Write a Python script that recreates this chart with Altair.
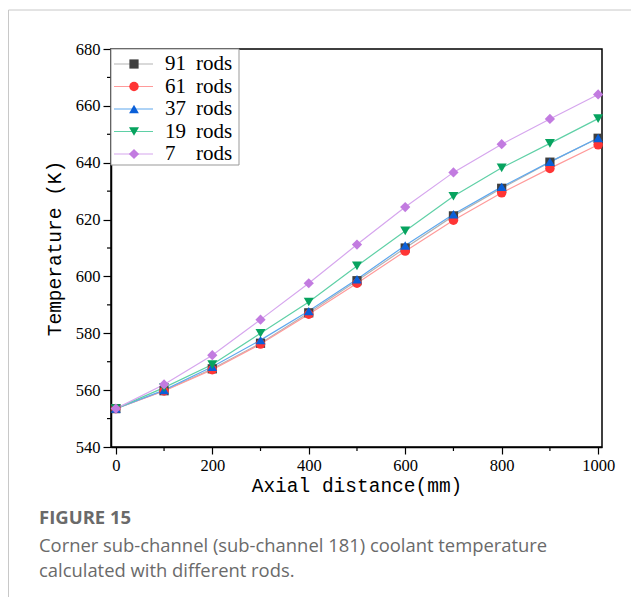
import altair as alt
import pandas as pd

# ---------------- data ----------------
x_mm = [0, 100, 200, 300, 400, 500, 600, 700, 800, 900, 1000]
rod_numbers = ["91", "61", "37", "19", "7"]
t_91 = [553.5, 559.8, 567.5, 576.5, 587.2, 598.5, 610.0, 621.3, 631.0, 640.2, 648.6]
t_61 = [553.5, 559.7, 567.2, 576.2, 586.7, 597.6, 608.9, 619.8, 629.4, 638.0, 646.3]
t_37 = [553.5, 560.0, 568.2, 577.6, 587.8, 599.0, 610.9, 621.9, 631.5, 640.3, 648.7]
t_19 = [553.5, 560.9, 569.0, 580.0, 591.0, 603.7, 616.0, 628.2, 638.2, 646.8, 655.5]
t_7 = [553.5, 562.0, 572.3, 584.8, 597.6, 611.2, 624.4, 636.6, 646.5, 655.4, 664.0]

x_major_ticks = [0, 200, 400, 600, 800, 1000]
x_minor_ticks = [100, 300, 500, 700, 900]
y_major_ticks = [540, 560, 580, 600, 620, 640, 660, 680]
y_minor_ticks = [550, 570, 590, 610, 630, 650, 670]

x_title = "Axial distance(mm)"
y_title = "Temperature (K)"
legend_suffix = "rods"
caption_head = "FIGURE 15"
caption_lines = [
    "Corner sub-channel (sub-channel 181) coolant temperature",
    "calculated with different rods.",
]

# ---------------- styles ----------------
marker_colors = ["#3f3f3f", "#ff3535", "#0a5fd8", "#07a35f", "#c27be0"]
line_colors = ["#b3b3b3", "#ff9a9a", "#5ea8ee", "#5fd0a6", "#d6a6ee"]
shapes = ["square", "circle", "triangle-up", "triangle-down", "diamond"]
sizes = [85, 105, 125, 125, 130]

W, H = 491, 398

all_t = [t_91, t_61, t_37, t_19, t_7]
rows = []
for name, ts in zip(rod_numbers, all_t):
    for xv, tv in zip(x_mm, ts):
        rows.append({"series": name, "x": xv, "t": tv})
df = pd.DataFrame(rows)

xscale = alt.Scale(domain=[-10, 1008], nice=False, zero=False)
yscale = alt.Scale(domain=[540, 680], nice=False, zero=False)
stroke_scale = alt.Scale(domain=rod_numbers, range=line_colors)
fill_scale = alt.Scale(domain=rod_numbers, range=marker_colors)
shape_scale = alt.Scale(domain=rod_numbers, range=shapes)
size_scale = alt.Scale(domain=rod_numbers, range=sizes)

serif = "Liberation Serif"
mono = "Liberation Mono"
sans = "Open Sans"

axis_common = dict(
    grid=False, labelFlush=False, labelOverlap=False, format="d",
    labelFont=serif, labelFontSize=16.5, labelColor="black",
    titleFont=mono, titleFontSize=19.5, titleFontWeight="normal", titleColor="black",
    domainColor="black", domainWidth=1.5, tickColor="black", tickWidth=1.2,
)

lines = alt.Chart(df).mark_line(strokeWidth=1.2).encode(
    x=alt.X("x:Q", scale=xscale, axis=alt.Axis(
        values=x_major_ticks, title=x_title, tickSize=7,
        labelPadding=3, titlePadding=3, **axis_common)),
    y=alt.Y("t:Q", scale=yscale, axis=alt.Axis(
        values=y_major_ticks, title=y_title, tickSize=8,
        labelPadding=3, titlePadding=11, **axis_common)),
    stroke=alt.Stroke("series:N", scale=stroke_scale, legend=None),
    detail="series:N",
)

points = alt.Chart(df).mark_point(filled=True, opacity=1, strokeWidth=0).encode(
    x=alt.X("x:Q", scale=xscale),
    y=alt.Y("t:Q", scale=yscale),
    fill=alt.Fill("series:N", scale=fill_scale, legend=None),
    shape=alt.Shape("series:N", scale=shape_scale, legend=None),
    size=alt.Size("series:N", scale=size_scale, legend=None),
    order=alt.Order("ord:Q"),
).transform_calculate(ord="indexof(" + str(rod_numbers) + ", datum.series)")

xminor = alt.Chart(pd.DataFrame({"v": x_minor_ticks})).mark_rule(
    color="black", strokeWidth=1.2).encode(
    x=alt.X("v:Q", scale=xscale), y=alt.value(H), y2=alt.value(H + 4))
yminor = alt.Chart(pd.DataFrame({"v": y_minor_ticks})).mark_rule(
    color="black", strokeWidth=1.2).encode(
    y=alt.Y("v:Q", scale=yscale), x=alt.value(-4), x2=alt.value(0))

main = alt.layer(lines, points, xminor, yminor)

# ---------------- legend ----------------
leg_df = pd.DataFrame({"series": rod_numbers})
ly = alt.Y("series:N", scale=alt.Scale(type="point", domain=rod_numbers,
                                       range=[15, 105], padding=0), axis=None)
one = pd.DataFrame({"a": [0]})
leg_box = alt.Chart(one).mark_rect(fill="white", stroke="#999999", strokeWidth=1).encode(
    x=alt.value(0), x2=alt.value(128), y=alt.value(0), y2=alt.value(116))
leg_line = alt.Chart(leg_df).mark_rule(strokeWidth=1.2).encode(
    x=alt.value(3), x2=alt.value(42), y=ly,
    stroke=alt.Stroke("series:N", scale=stroke_scale, legend=None))
leg_pt = alt.Chart(leg_df).mark_point(filled=True, opacity=1, strokeWidth=0).encode(
    x=alt.value(23), y=ly,
    fill=alt.Fill("series:N", scale=fill_scale, legend=None),
    shape=alt.Shape("series:N", scale=shape_scale, legend=None),
    size=alt.Size("series:N", scale=size_scale, legend=None))
leg_num = alt.Chart(leg_df).mark_text(
    align="left", baseline="middle", font=serif, fontSize=21, color="black").encode(
    x=alt.value(54), y=ly, text="series:N")
leg_rods = alt.Chart(leg_df).mark_text(
    align="left", baseline="middle", font=serif, fontSize=21, color="black").encode(
    x=alt.value(85), y=ly, text=alt.value(legend_suffix))
legend = alt.layer(leg_box, leg_line, leg_pt, leg_num, leg_rods)

# ---------------- page frame & caption ----------------
frame_top = alt.Chart(one).mark_rule(color="#c8c8c8", strokeWidth=1).encode(
    x=alt.value(-102.5), x2=alt.value(520), y=alt.value(-39))
frame_left = alt.Chart(one).mark_rule(color="#c8c8c8", strokeWidth=1).encode(
    x=alt.value(-102.5), y=alt.value(-39), y2=alt.value(548))
cap_head = alt.Chart(one).mark_text(
    align="left", baseline="alphabetic", font=sans, fontSize=18.5,
    fontWeight="bold", color="#6a6a6a").encode(
    x=alt.value(-72), y=alt.value(475), text=alt.value(caption_head))
cap1 = alt.Chart(one).mark_text(
    align="left", baseline="alphabetic", font=sans, fontSize=18.4,
    color="#6a6a6a").encode(
    x=alt.value(-72), y=alt.value(503), text=alt.value(caption_lines[0]))
cap2 = alt.Chart(one).mark_text(
    align="left", baseline="alphabetic", font=sans, fontSize=18.4,
    color="#6a6a6a").encode(
    x=alt.value(-72), y=alt.value(528), text=alt.value(caption_lines[1]))

chart = alt.layer(
    frame_top, frame_left, main, legend, cap_head, cap1, cap2
).resolve_scale(y="independent").properties(
    width=W, height=H,
    padding={"left": 0, "top": 1, "right": 0, "bottom": 0},
).configure_view(
    stroke="black", strokeWidth=1.5
)

chart.save("out.html", embed_options={"renderer": "svg", "actions": False})
